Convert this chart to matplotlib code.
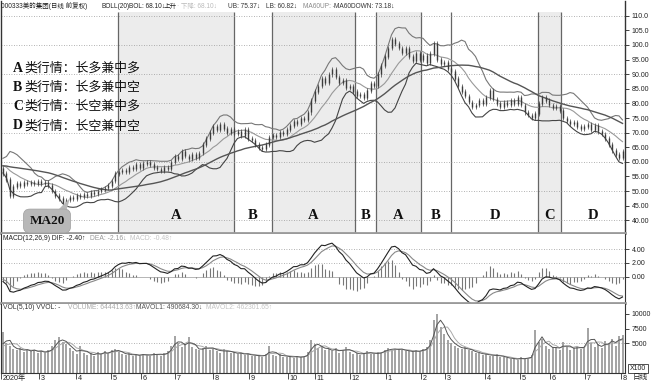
import numpy as np
import pandas as pd
import matplotlib
matplotlib.use('Agg')
import matplotlib.pyplot as plt
import matplotlib.transforms as mtrans
from matplotlib.patches import Polygon

plt.rcParams['font.family'] = ['Liberation Sans', 'Noto Sans CJK SC']

W, H = 653, 382

# closes before the first plotted bar (only used to warm up the indicators)
close_pre = [55.5, 56, 56.5, 57, 56.8, 57.5, 58, 57.6, 58.2, 58.8,
             58.5, 59, 59.4, 58.9, 59.6, 60, 59.5, 60.2, 59.8, 60.5,
             60.1, 59.6, 60.3, 59.9, 59.2, 59.7, 58.8, 58.2, 57.5, 57.9]
vol_pre = [3500, 3800, 4000, 3600, 4200]

# one bar = two trading days, Feb 2020 .. Jul 2021
close = [56, 54, 48.5, 51.5, 52.5, 52, 53, 52.5, 53, 52.5,
         53.5, 52.5, 53, 52, 50, 48.5, 47.5, 46, 47, 48,
         47.5, 48.5, 48, 49, 48.5, 49.5, 49, 50, 50.5, 51,
         52, 53.5, 56, 56.5, 57, 56.5, 58, 57.5, 59, 58,
         59.5, 60, 59, 58, 57.5, 57, 58, 57.5, 60, 62,
         61, 63.5, 62, 61, 62.5, 61.5, 63, 66, 68, 70,
         72, 71, 73, 71.5, 70, 71, 69.5, 70.5, 69, 71,
         68, 67.5, 66, 65, 64.5, 66, 68.5, 69, 68.5, 70,
         69.5, 71, 72.5, 74, 73, 75, 74.5, 77, 81, 84,
         86, 88.5, 87, 90, 91.5, 89, 87, 88, 85.5, 86,
         84, 82.5, 83, 82, 84.5, 87, 86, 90, 93, 96,
         99, 102, 100.5, 99, 97.5, 99, 96, 94.5, 97, 95,
         96.5, 94, 97, 100.5, 95, 93.5, 94, 92, 91, 88.5,
         86, 84, 82.5, 80.5, 79, 79.5, 81, 80, 82, 84.5,
         81.5, 80, 79, 80.5, 79.5, 81, 80, 82, 79.5, 77,
         76, 75, 76.5, 80, 82, 81, 79.5, 78.5, 79, 77.5,
         75, 74, 73, 73.5, 72, 71.5, 72, 73, 71, 72.5,
         70.5, 69.5, 68, 66, 64, 62.5, 61.5, 63.5]

vol = [7000, 5000, 4500, 4000,
       3800, 4200, 3500, 4000, 3600, 3900, 3400, 3700, 3300, 3800,
       4500, 5500, 6000, 5200, 4800, 4200,
       3600, 3200, 4500, 3400, 3000, 3300, 2900, 3500, 3100, 3600, 3300, 3800, 4000,
       3500, 3200, 3000, 3300, 2800, 3100, 2900, 3200, 3000, 2800, 3400, 3100, 2900, 3300, 3600,
       4500, 6200, 5000, 4400, 4800, 6000, 4300, 4000, 3800, 4200,
       4500, 3900, 4200, 3700, 3400, 4000, 3600, 3300, 3500, 3100, 3400, 3000, 3200, 2900, 2800,
       3000, 2700, 3100, 4500, 3000, 2800, 3200, 2700, 2600, 2900, 2500, 2800, 2600, 2700, 3500,
       5500, 4800, 4200, 4500, 3800, 4000, 3600, 4200,
       3400, 3800, 4400, 3500, 3200, 3400, 3000, 3300, 3700, 3200, 3100, 3500, 3400, 3900, 4200,
       3800, 4100, 4000, 3900, 3600, 3700, 3500, 3800, 3600, 4000, 4300,
       5500, 9000, 10000, 7800, 6500,
       5500, 5000, 4600, 4200, 4000, 4300, 3800, 3600,
       3400, 3300, 3000, 3200, 2900, 2800, 3100, 2700, 2600, 2500, 2300, 2400, 2200, 2600, 2300, 2500,
       3000, 7300, 5200, 5800, 4500, 4000, 4400, 4400, 3800, 5300,
       4500, 3800, 4200, 4600, 4000, 4300, 7600, 5000, 4400, 4800, 4200, 5400, 5000, 5800, 4600, 6200, 6444]

# month ticks (bar index) and their labels
month_pos = [-0.57, 10.3, 20.9, 30.9, 39.4, 49.1, 60, 70.3, 81.4, 89.1,
             99.1, 109.4, 119.4, 126.3, 137.7, 147.7, 156.3, 166.3, 176.6]
month_lab = ['2020年', '3', '4', '5', '6', '7', '8', '9', '10', '11',
             '12', '1', '2', '3', '4', '5', '6', '7', '8']

# market phases (bar index bounds) and shaded ones
phase_lab = ['A', 'B', 'A', 'B', 'A', 'B', 'D', 'C', 'D']
phase_edge = [32.9, 66, 76.9, 100.6, 106.6, 119.4, 128, 152.9, 159.4, 177.7]
shaded = [0, 2, 4, 7]

legend_lines = [('A', '类行情：长多兼中多'), ('B', '类行情：长多兼中空'),
                ('C', '类行情：长空兼中多'), ('D', '类行情：长空兼中空')]

# ---- indicators
n_pre = len(close_pre)
c_all = pd.Series(close_pre + close, dtype=float)
mid = c_all.rolling(10).mean()
sd = c_all.rolling(10).std(ddof=0)
ub = (mid + 2 * sd).values[n_pre:]
lb = (mid - 2 * sd).values[n_pre:]
mid = mid.values[n_pre:]
ma60 = c_all.rolling(30, min_periods=1).mean().values[n_pre:]
dif = c_all.ewm(span=6, adjust=False).mean() - c_all.ewm(span=13, adjust=False).mean()
dea = dif.ewm(span=4.5, adjust=False).mean()
hist = (2 * (dif - dea)).values[n_pre:]
dif = dif.values[n_pre:]
dea = dea.values[n_pre:]
v_all = pd.Series(vol_pre + vol, dtype=float)
mav1 = v_all.rolling(3).mean().values[len(vol_pre):]
mav2 = v_all.rolling(5).mean().values[len(vol_pre):]

x = np.arange(len(close))
c = np.array(close)
o = c_all.shift(1).values[n_pre:]
hi = np.maximum(o, c)
lo = np.minimum(o, c)

fig = plt.figure(figsize=(W / 100, H / 100), dpi=100)
fig.patch.set_facecolor('white')


def px_axes(y0, y1):
    return fig.add_axes([1 / W, 1 - y1 / H, 624 / W, (y1 - y0) / H])


xlim = (-0.571, 177.71)
dot = (0, (1, 2))

# ---------------- price panel
ax = px_axes(1, 233)
ax.set_xlim(*xlim)
ax.set_ylim(35.66, 115.03)
ytop = 111.27
frac = (ytop - 35.66) / (115.03 - 35.66)
for k in shaded:
    ax.axvspan(phase_edge[k], phase_edge[k + 1], ymax=frac, color='#ececec', lw=0, zorder=0)
ax.vlines(phase_edge[:-1], 35.66, ytop, color='#666666', lw=0.9, zorder=1)
ax.hlines(np.arange(40, 111, 10), xlim[0], xlim[1], color='#999999', lw=0.6, linestyle=dot, zorder=1)

ax.plot(x, ub, color='#777777', lw=0.8, zorder=2)
ax.plot(x, lb, color='#444444', lw=0.8, zorder=2)
ax.plot(x, mid, color='#999999', lw=0.8, zorder=2)
ax.plot(x, ma60, color='#555555', lw=1.0, zorder=2)
ax.vlines(x, lo - 0.8, hi + 0.8, color='#3c3c3c', lw=0.5, zorder=3)
ax.vlines(x, lo - 0.1, hi + 0.1, color='#3c3c3c', lw=1.0, zorder=3)

pt = [110, 105, 100, 95, 90, 85, 80, 75, 70, 65, 60, 55, 50, 45, 40]
ax.yaxis.tick_right()
ax.set_yticks(pt)
ax.set_yticklabels([f'{v:.1f}' if v >= 100 else f'{v:.2f}' for v in pt])
ax.tick_params(axis='y', direction='out', length=3, width=0.6, labelsize=5, pad=2, colors='#222222')
ax.set_xticks([])
for s in ['left', 'right']:
    ax.spines[s].set_color('#333333')
    ax.spines[s].set_linewidth(1)
ax.spines['top'].set_visible(False)
ax.spines['bottom'].set_color('#9a9a9a')
ax.spines['bottom'].set_linewidth(2)

for k, lab in enumerate(phase_lab):
    cx = (phase_edge[k] + phase_edge[k + 1]) / 2
    ax.text(cx, 41.6, lab, ha='center', va='center', fontsize=10.5,
            family='Liberation Serif', fontweight='bold', color='#111111')

# legend block
for j, (let, txt) in enumerate(legend_lines):
    yy = 1 - (68 + 19.3 * j) / H
    fig.text(13 / W, yy, let, ha='left', va='center', fontsize=10,
             family='Liberation Serif', fontweight='bold', color='#111111')
    fig.text(24 / W, yy, txt, ha='left', va='center', fontsize=9.3,
             family='Noto Sans CJK SC', color='#111111')

# MA20 callout
fig.patches.append(Polygon([(56 / W, 1 - 212 / H), (66 / W, 1 - 212 / H), (70 / W, 1 - 198 / H)],
                           closed=True, transform=fig.transFigure, fc='#b8b8b8', ec='none', zorder=5))
fig.text(47 / W, 1 - 221 / H, 'MA20', ha='center', va='center', fontsize=9.5,
         family='Liberation Serif', fontweight='bold', color='#111111', zorder=6,
         bbox=dict(boxstyle='round,pad=0.45,rounding_size=0.5', fc='#b8b8b8', ec='#a0a0a0', lw=0.5))

# header line
hdr = [(1, '000333美的集团(日线 前复权)', '#222222'), (101, 'BOLL(20)', '#222222'),
       (129, 'BOL: 68.10↓', '#222222'), (164, '上升', '#222222'),
       (177, '· 下降: 68.10↓', '#bbbbbb'), (228, 'UB: 75.37↓', '#333333'),
       (266, 'LB: 60.82↓', '#333333'), (303, 'MA60UP: -', '#888888'),
       (334, 'MA60DOWN: 73.18↓', '#333333')]
for hx, t, col in hdr:
    fig.text(hx / W, 1 - 6.5 / H, t, ha='left', va='center', fontsize=4.7, color=col,
             family=['Liberation Sans', 'Noto Sans CJK SC', 'DejaVu Sans'])

# ---------------- MACD panel
am = px_axes(234, 303)
am.set_xlim(*xlim)
am.set_ylim(-3.81, 6.19)
am.hlines([2, 4], xlim[0], xlim[1], color='#999999', lw=0.6, linestyle=dot)
am.axhline(0, color='#aaaaaa', lw=0.6)
am.vlines(x, 0, hist, color='#777777', lw=0.8)
am.plot(x, dea, color='#888888', lw=0.8)
am.plot(x, dif, color='#222222', lw=0.8)
am.yaxis.tick_right()
am.set_yticks([4, 2, 0])
am.set_yticklabels(['4.00', '2.00', '0.00'])
am.tick_params(axis='y', direction='out', length=3, width=0.6, labelsize=5, pad=2, colors='#222222')
am.set_xticks([])
for s in ['left', 'right']:
    am.spines[s].set_color('#333333')
am.spines['top'].set_visible(False)
am.spines['bottom'].set_color('#9a9a9a')
am.spines['bottom'].set_linewidth(2)
for hx, t, col in [(3, 'MACD(12,26,9) DIF: -2.40↑', '#222222'), (90, 'DEA: -2.16↓', '#999999'),
                   (130, 'MACD: -0.48↑', '#c4c4c4')]:
    fig.text(hx / W, 1 - 238.5 / H, t, ha='left', va='center', fontsize=4.9, color=col,
             family=['Liberation Sans', 'DejaVu Sans'])

# ---------------- VOL panel
av = px_axes(304, 373)
av.set_xlim(*xlim)
av.set_ylim(-70, 11700)
av.axhline(5000, color='#999999', lw=0.6, linestyle=dot)
av.vlines(x, 0, vol, color='#8a8a8a', lw=1.1)
av.plot(x, mav2, color='#aaaaaa', lw=0.7)
av.plot(x, mav1, color='#555555', lw=0.7)
av.yaxis.tick_right()
av.set_yticks([10000, 7500, 5000])
av.set_yticklabels(['10000', '7500', '5000'])
av.tick_params(axis='y', direction='out', length=3, width=0.6, labelsize=5, pad=2, colors='#222222')
av.set_xticks(month_pos)
av.tick_params(axis='x', direction='out', length=4, width=0.6, labelbottom=False, colors='#333333')
for s in ['left', 'right', 'bottom']:
    av.spines[s].set_color('#333333')
av.spines['top'].set_visible(False)
bt = mtrans.blended_transform_factory(av.transData, av.transAxes)
for p, lab in zip(month_pos, month_lab):
    av.text(p + 0.5, -0.075, lab, transform=bt, ha='left', va='center', fontsize=5.2,
            color='#222222', clip_on=False)
for hx, t, col in [(3, 'VOL(5,10) VVOL: -', '#333333'), (68, 'VOLUME: 644413.63↑', '#aaaaaa'),
                   (136, 'MAVOL1: 490684.30↓', '#555555'), (206, 'MAVOL2: 462301.65↑', '#c4c4c4')]:
    fig.text(hx / W, 1 - 307.5 / H, t, ha='left', va='center', fontsize=4.9, color=col,
             family=['Liberation Sans', 'DejaVu Sans'])
fig.text(638 / W, 1 - 368.5 / H, 'X100', ha='center', va='center', fontsize=5, color='#222222',
         bbox=dict(boxstyle='square,pad=0.2', fc='white', ec='#333333', lw=0.6))
fig.text(640 / W, 1 - 378 / H, '日线', ha='center', va='center', fontsize=5.5, color='#222222')

fig.savefig('out.png', dpi=100)
